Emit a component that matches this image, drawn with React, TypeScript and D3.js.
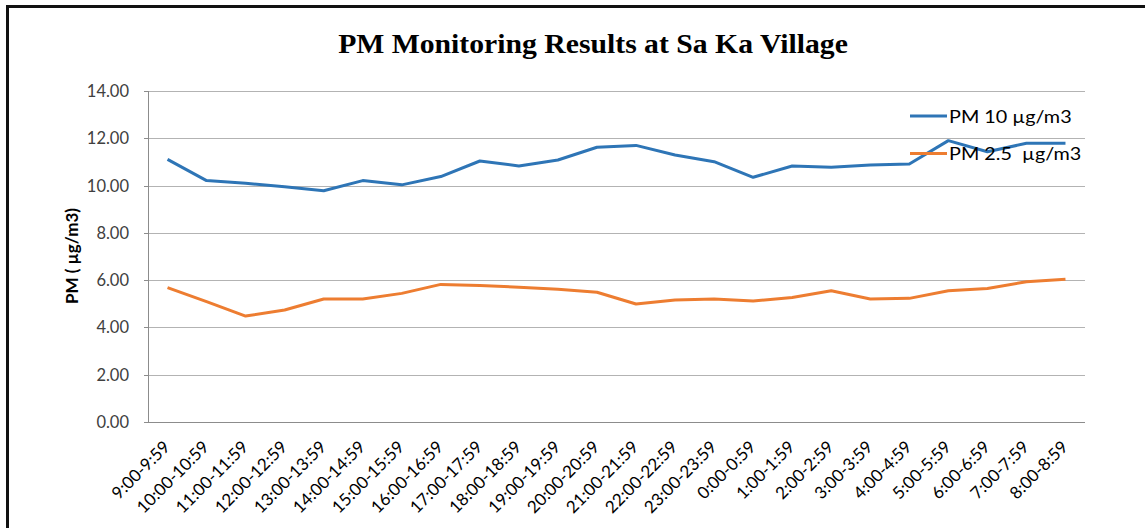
import React from "react";
import * as d3 from "d3";

const categories = [
  "9:00-9:59", "10:00-10:59", "11:00-11:59", "12:00-12:59", "13:00-13:59", "14:00-14:59",
  "15:00-15:59", "16:00-16:59", "17:00-17:59", "18:00-18:59", "19:00-19:59", "20:00-20:59",
  "21:00-21:59", "22:00-22:59", "23:00-23:59", "0:00-0:59", "1:00-1:59", "2:00-2:59",
  "3:00-3:59", "4:00-4:59", "5:00-5:59", "6:00-6:59", "7:00-7:59", "8:00-8:59",
];
const pm10 = [
  11.11, 10.21, 10.1, 9.95, 9.78, 10.21, 10.03, 10.38, 11.04, 10.83, 11.08, 11.62,
  11.7, 11.29, 11.01, 10.35, 10.83, 10.77, 10.87, 10.91, 11.9, 11.43, 11.79, 11.79,
];
const pm25 = [
  5.68, 5.09, 4.48, 4.74, 5.2, 5.2, 5.44, 5.82, 5.77, 5.7, 5.61, 5.49,
  4.99, 5.16, 5.2, 5.12, 5.27, 5.55, 5.2, 5.23, 5.55, 5.65, 5.93, 6.04,
];
const yTicks = [0, 2, 4, 6, 8, 10, 12, 14];
const seriesNames = ["PM 10 µg/m3", "PM 2.5  µg/m3"];
const title = "PM Monitoring Results at Sa Ka Village";
const yLabel = "PM ( µg/m3)";

const W = 1145;
const H = 528;
const plot = { left: 148, right: 1085, top: 91, bottom: 422 };
const colors = ["#2E75B6", "#ED7D31"];
const font = "Lato, 'Open Sans', sans-serif";

export default function App() {
  const x = d3
    .scaleBand<string>()
    .domain(categories)
    .range([plot.left, plot.right]);
  const y = d3.scaleLinear().domain([0, 14]).range([plot.bottom, plot.top]);
  const cx = (c: string) => (x(c) ?? 0) + x.bandwidth() / 2;
  const line = d3
    .line<number>()
    .x((_, i) => cx(categories[i]))
    .y((d) => y(d));
  const series = [pm10, pm25];

  return (
    <svg
      width={W}
      height={H}
      style={{ position: "absolute", left: 0, top: 0, background: "#fff" }}
    >
      <rect x={0} y={0} width={W} height={H} fill="#fff" />
      {/* outer frame */}
      <line x1={7.5} y1={5} x2={7.5} y2={H} stroke="#111" strokeWidth={3} />
      <line x1={6} y1={6.5} x2={W} y2={6.5} stroke="#111" strokeWidth={3} />

      <text
        transform="translate(593, 53) scale(1.1, 1)"
        textAnchor="middle"
        fontFamily="'Liberation Serif', 'Times New Roman', serif"
        fontWeight="bold"
        fontSize={27}
        fill="#000"
      >
        {title}
      </text>

      {/* gridlines */}
      {yTicks.map((t) => (
        <line
          key={"g" + t}
          x1={plot.left}
          x2={plot.right}
          y1={Math.round(y(t)) + 0.5}
          y2={Math.round(y(t)) + 0.5}
          stroke={t === 0 ? "#8C8C8C" : "#B3B3B3"}
          strokeWidth={1}
        />
      ))}
      {/* y axis */}
      <line
        x1={plot.left + 0.5}
        x2={plot.left + 0.5}
        y1={plot.top}
        y2={plot.bottom + 0.5}
        stroke="#8C8C8C"
      />
      {yTicks.map((t) => (
        <g key={"t" + t}>
          <line
            x1={plot.left - 4}
            x2={plot.left}
            y1={Math.round(y(t)) + 0.5}
            y2={Math.round(y(t)) + 0.5}
            stroke="#8C8C8C"
          />
          <text
            x={129}
            y={y(t) + 6}
            textAnchor="end"
            fontFamily={font}
            fontSize={16.5}
            fill="#404040"
          >
            {d3.format(".2f")(t)}
          </text>
        </g>
      ))}

      <text
        transform={`translate(78, 256) rotate(-90)`}
        textAnchor="middle"
        fontFamily={font}
        fontWeight="bold"
        fontSize={17}
        fill="#000"
        style={{ whiteSpace: "pre" }}
      >
        {yLabel}
      </text>

      {/* x labels */}
      {categories.map((c) => (
        <text
          key={c}
          transform={`translate(${cx(c) + 3.5}, 448) rotate(-45)`}
          textAnchor="end"
          fontFamily={font}
          fontSize={17}
          fill="#000"
        >
          {c}
        </text>
      ))}

      {/* series */}
      {series.map((s, i) => (
        <path
          key={"s" + i}
          d={line(s) ?? ""}
          fill="none"
          stroke={colors[i]}
          strokeWidth={3}
          strokeLinejoin="round"
        />
      ))}

      {/* legend */}
      {seriesNames.map((n, i) => {
        const ly = 116 + i * 37.5;
        return (
          <g key={n}>
            <line x1={910} x2={947} y1={ly} y2={ly} stroke={colors[i]} strokeWidth={3} />
            <text
              transform={`translate(949, ${ly + 6.5}) scale(1.1, 1)`}
              fontFamily={font}
              fontSize={18}
              fill="#000"
              style={{ whiteSpace: "pre" }}
            >
              {n}
            </text>
          </g>
        );
      })}
    </svg>
  );
}
